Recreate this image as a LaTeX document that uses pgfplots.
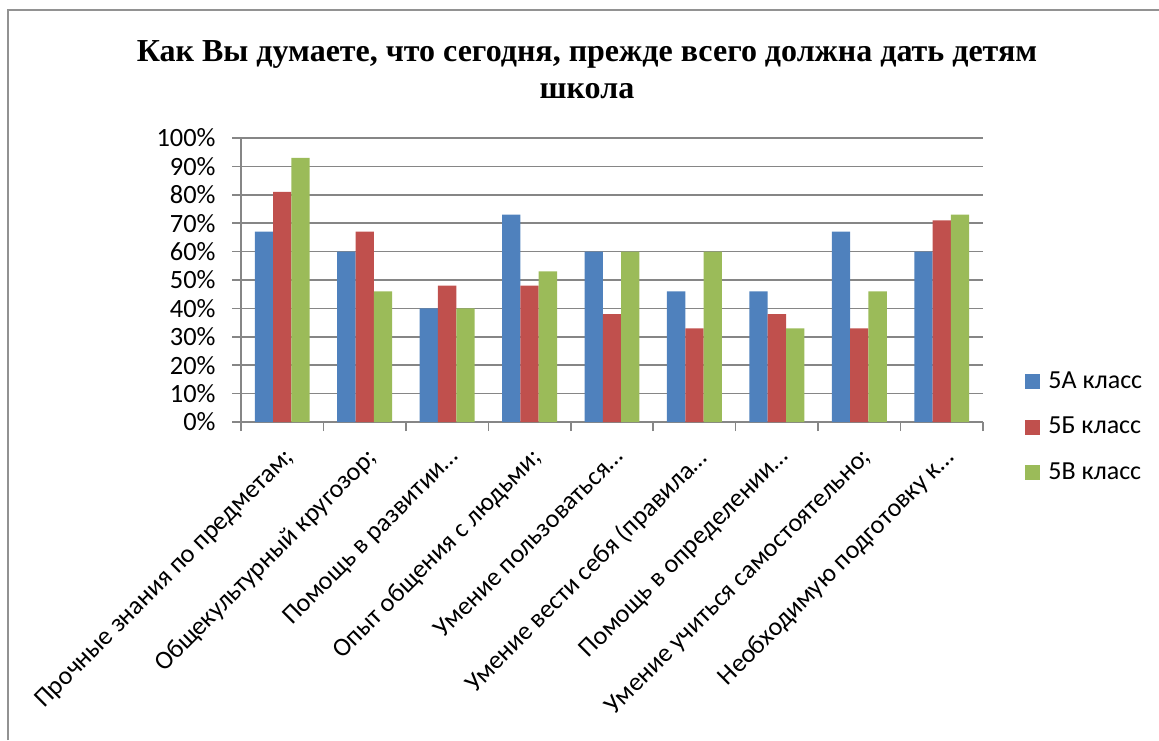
\documentclass[border=0pt]{standalone}
\usepackage{fontspec}
\setmainfont{Carlito}
\newfontfamily\titlefont{Liberation Serif}
\usepackage{pgfplots}
\pgfplotsset{compat=1.18}
\definecolor{sA}{HTML}{4F81BD}
\definecolor{sB}{HTML}{C0504D}
\definecolor{sV}{HTML}{9BBB59}
\definecolor{gridc}{HTML}{868686}

\pgfplotstableread{
x A B V
0 67 81 93
1 60 67 46
2 40 48 40
3 73 48 53
4 60 38 60
5 46 33 60
6 46 38 33
7 67 33 46
8 60 71 73
}\schooldata

\begin{document}
\begin{tikzpicture}
    \useasboundingbox (0,0) rectangle (579.5pt,370pt);
    % chart frame (only left and top edges are visible)
    \draw[gridc!90, line width=1pt] (4pt,0) -- (4pt,365pt) -- (579.5pt,365pt);
    \node[font=\titlefont\bfseries\fontsize{16}{18.5}\selectfont, align=center]
        at (293.5pt,335pt)
        {Как Вы думаете, что сегодня, прежде всего должна дать детям\\школа};

    \begin{axis}[
        at={(120.5pt,159pt)},
        anchor=south west,
        scale only axis,
        width=371pt,
        height=142pt,
        ybar=0pt,
        bar width=9.15pt,
        xmin=-0.5, xmax=8.5,
        ymin=0, ymax=100,
        axis x line*=bottom,
        axis y line*=left,
        axis line style={gridc, line width=0.8pt},
        ymajorgrids,
        grid style={gridc, line width=0.8pt},
        tick style={gridc, line width=0.8pt},
        tick align=outside,
        major tick length=4.5pt,
        minor tick length=4.5pt,
        ytick={0,10,...,100},
        yticklabels={0\%,10\%,20\%,30\%,40\%,50\%,60\%,70\%,80\%,90\%,100\%},
        xtick={0,...,8},
        x tick style={draw=none},
        minor xtick={-0.5,0.5,...,8.5},
        minor x tick style={draw=gridc, line width=0.8pt},
        xticklabels={
            Прочные знания по предметам;,
            Общекультурный кругозор;,
            Помощь в развитии…,
            Опыт общения с людьми;,
            Умение пользоваться…,
            Умение вести себя (правила…,
            Помощь в определении…,
            Умение учиться самостоятельно;,
            Необходимую подготовку к…
        },
        xticklabel style={rotate=45, anchor=north east, inner sep=1pt,
            xshift=-4pt, yshift=-4.5pt, font=\fontsize{13}{15}\selectfont},
        yticklabel style={font=\fontsize{13.2}{15}\selectfont, inner sep=2pt,
            xshift=-6pt},
        legend style={
            at={(rel axis cs:1.0566,-0.0176)},
            anchor=west,
            draw=none,
            inner sep=0pt,
            row sep=13pt,
            font=\fontsize{13}{15}\selectfont,
            nodes={inner sep=0pt},
            /tikz/every odd column/.append style={column sep=4pt},
        },
        legend cell align=left,
        legend image code/.code={
            \path[#1] (0pt,-3.75pt) rectangle (7.5pt,3.75pt);
        },
    ]
    \addplot[fill=sA, draw=none] table[x=x, y=A]{\schooldata};
    \addplot[fill=sB, draw=none] table[x=x, y=B]{\schooldata};
    \addplot[fill=sV, draw=none] table[x=x, y=V]{\schooldata};
    \legend{5А класс, 5Б класс, 5В класс}
    \end{axis}
\end{tikzpicture}
\end{document}
